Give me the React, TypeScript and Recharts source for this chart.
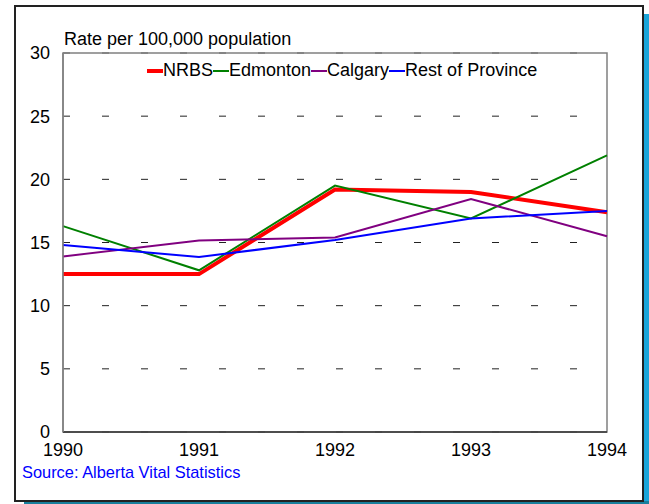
import { LineChart, Line, XAxis, YAxis, CartesianGrid, ReferenceArea } from 'recharts';

const years = [1990, 1991, 1992, 1993, 1994];
const nrbs = [12.5, 12.5, 19.2, 19.0, 17.4];
const edmonton = [16.3, 12.8, 19.5, 16.9, 21.9];
const calgary = [13.9, 15.15, 15.4, 18.45, 15.5];
const restOfProvince = [14.8, 13.85, 15.2, 16.9, 17.5];
const yTicks = [0, 5, 10, 15, 20, 25, 30];

const series = [
  { key: 'NRBS', color: '#ff0000', width: 4 },
  { key: 'Edmonton', color: '#008000', width: 2 },
  { key: 'Calgary', color: '#800080', width: 2 },
  { key: 'Rest of Province', color: '#0000ff', width: 2 },
];

const data = years.map((year, i) => ({
  year,
  NRBS: nrbs[i],
  Edmonton: edmonton[i],
  Calgary: calgary[i],
  'Rest of Province': restOfProvince[i],
}));

const font = '"Liberation Sans", Arial, sans-serif';

// legend sits inside the plot, so keep it out of recharts' layout
function LegendRow() {
  return (
    <div style={{ position: 'absolute', left: 147, top: 60, display: 'flex', alignItems: 'center', whiteSpace: 'nowrap', fontFamily: font, fontSize: 18, color: '#000' }}>
      {series.map((s) => (
        <span key={s.key} style={{ display: 'flex', alignItems: 'center' }}>
          <span style={{ display: 'inline-block', width: 16, height: s.width, background: s.color }} />
          <span>{s.key}</span>
        </span>
      ))}
    </div>
  );
}

export default function App() {
  return (
    <div style={{ position: 'absolute', left: 0, top: 0, width: 649, height: 504, overflow: 'hidden', background: '#fff' }}>
      <div style={{ position: 'absolute', left: 24, top: 14, width: 640, height: 500, background: '#1aa4d8' }} />
      <div style={{ position: 'absolute', left: 24, top: 501, width: 640, height: 4, background: '#187f9c' }} />
      <div style={{ position: 'absolute', left: 14, top: 5, width: 630, height: 497, boxSizing: 'border-box', border: '2px solid #222', background: '#fff' }} />
      <div style={{ position: 'absolute', left: 64, top: 29, fontFamily: font, fontSize: 18, color: '#000', whiteSpace: 'nowrap' }}>
        Rate per 100,000 population
      </div>
      <div style={{ position: 'absolute', left: 22, top: 463, fontFamily: font, fontSize: 16.4, color: '#0000ff', whiteSpace: 'nowrap' }}>
        Source: Alberta Vital Statistics
      </div>
      <div style={{ position: 'absolute', left: 0, top: 0 }}>
        <LineChart width={649} height={504} data={data} margin={{ top: 53, right: 42, bottom: 0, left: 0 }}>
          <CartesianGrid vertical={false} stroke="#222" strokeDasharray="7 32" />
          <ReferenceArea x1={1990} x2={1994} y1={0} y2={30} fill="none" stroke="#808080" strokeWidth={1.5} ifOverflow="visible" />
          <XAxis
            type="number"
            dataKey="year"
            domain={[1990, 1994]}
            ticks={years}
            height={72}
            tickLine={false}
            tickSize={0}
            tickMargin={11}
            axisLine={{ stroke: '#333', strokeWidth: 1.5 }}
            tick={{ fill: '#000', fontSize: 18, fontFamily: font }}
          />
          <YAxis
            domain={[0, 30]}
            ticks={yTicks}
            width={63}
            tickLine={false}
            tickSize={0}
            tickMargin={13}
            axisLine={{ stroke: '#808080', strokeWidth: 1.5 }}
            tick={{ fill: '#000', fontSize: 18, fontFamily: font }}
          />
          {series.map((s) => (
            <Line
              key={s.key}
              type="linear"
              dataKey={s.key}
              stroke={s.color}
              strokeWidth={s.width}
              dot={false}
              isAnimationActive={false}
            />
          ))}
        </LineChart>
      </div>
      <LegendRow />
    </div>
  );
}
